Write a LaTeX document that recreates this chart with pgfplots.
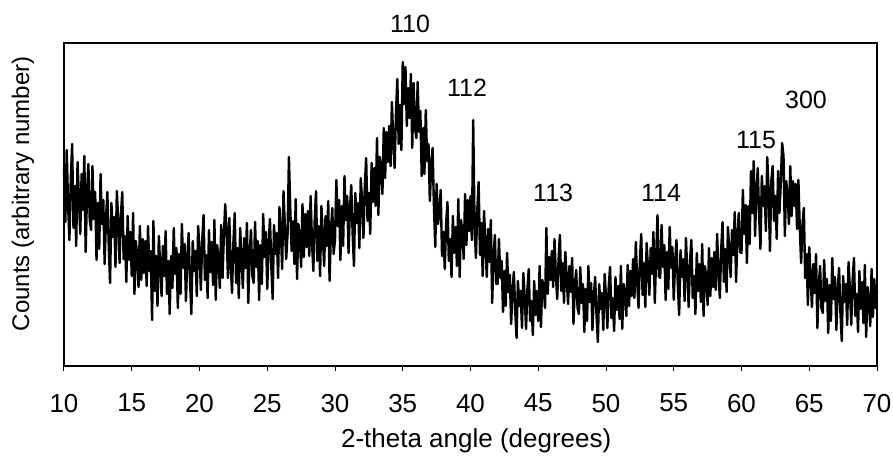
\documentclass[border=0pt]{standalone}
\usepackage{pgfplots}
\pgfplotsset{compat=1.18}
\usepackage{fontspec}
\setmainfont{Liberation Sans}
\begin{document}
\begin{tikzpicture}
\useasboundingbox (-32pt,-48.5pt) rectangle (414.5pt,183pt);
\begin{axis}[
  at={(0pt,0pt)}, anchor=south west,
  scale only axis, width=406.5pt, height=161.5pt,
  xmin=10, xmax=70, ymin=0, ymax=323,
  xtick={10,15,...,70}, ytick=\empty,
  xtick pos=bottom, tick align=outside, major tick length=2.5pt,
  axis line style={line width=0.9pt}, tick style={line width=0.5pt, black},
  xticklabel style={font=\fontsize{13}{15}\selectfont, yshift=-8pt},
  /pgf/number format/assume math mode=true,
  clip=false,
]
\addplot[black, line width=1.2pt, line join=round] coordinates {
(10.0,198) (10.1,144) (10.2,216) (10.3,162) (10.4,126) (10.5,186) (10.6,222) (10.7,138) (10.8,180) (10.9,120)
(11.0,204) (11.1,168) (11.2,132) (11.3,192) (11.4,156) (11.5,210) (11.6,114) (11.7,174) (11.8,202) (11.9,146)
(12.0,136) (12.1,200) (12.2,147) (12.3,174) (12.4,106) (12.5,163) (12.6,117) (12.7,192) (12.8,142) (12.9,166)
(13.0,102) (13.1,148) (13.2,174) (13.3,121) (13.4,83) (13.5,163) (13.6,129) (13.7,149) (13.8,99) (13.9,175)
(14.0,145) (14.1,103) (14.2,151) (14.3,174) (14.4,107) (14.5,130) (14.6,84) (14.7,150) (14.8,106) (14.9,134)
(15.0,90) (15.1,153) (15.2,72) (15.3,125) (15.4,110) (15.5,79) (15.6,140) (15.7,86) (15.8,127) (15.9,93)
(16.0,125) (16.1,80) (16.2,140) (16.3,95) (16.4,115) (16.5,46) (16.6,145) (16.7,75) (16.8,110) (16.9,60)
(17.0,130) (17.1,100) (17.2,70) (17.3,120) (17.4,90) (17.5,135) (17.6,72) (17.7,105) (17.8,52) (17.9,110)
(18.0,78) (18.1,138) (18.2,92) (18.3,118) (18.4,58) (18.5,112) (18.6,72) (18.7,142) (18.8,98) (18.9,122)
(19.0,65) (19.1,108) (19.2,133) (19.3,85) (19.4,52) (19.5,125) (19.6,95) (19.7,115) (19.8,70) (19.9,140)
(20.0,116) (20.1,76) (20.2,126) (20.3,151) (20.4,86) (20.5,111) (20.6,68) (20.7,136) (20.8,94) (20.9,124)
(21.0,81) (21.1,146) (21.2,66) (21.3,121) (21.4,108) (21.5,78) (21.6,141) (21.7,88) (21.8,131) (21.9,162)
(22.0,133) (22.1,88) (22.2,148) (22.3,103) (22.4,73) (22.5,123) (22.6,153) (22.7,83) (22.8,118) (22.9,68)
(23.0,138) (23.1,108) (23.2,78) (23.3,128) (23.4,98) (23.5,143) (23.6,63) (23.7,113) (23.8,136) (23.9,90)
(24.0,83) (24.1,144) (24.2,99) (24.3,125) (24.4,66) (24.5,121) (24.6,82) (24.7,152) (24.8,109) (24.9,134)
(25.0,77) (25.1,121) (25.2,147) (25.3,100) (25.4,67) (25.5,141) (25.6,112) (25.7,133) (25.8,88) (25.9,159)
(26.0,137) (26.1,97) (26.2,175) (26.3,140) (26.4,107) (26.5,132) (26.6,209) (26.7,157) (26.8,115) (26.9,145)
(27.0,102) (27.1,167) (27.2,87) (27.3,142) (27.4,129) (27.5,99) (27.6,162) (27.7,109) (27.8,152) (27.9,119)
(28.0,155) (28.1,110) (28.2,170) (28.3,125) (28.4,95) (28.5,145) (28.6,175) (28.7,105) (28.8,140) (28.9,90)
(29.0,160) (29.1,130) (29.2,100) (29.3,150) (29.4,120) (29.5,165) (29.6,85) (29.7,135) (29.8,158) (29.9,112)
(30.0,126) (30.1,186) (30.2,140) (30.3,166) (30.4,106) (30.5,160) (30.6,120) (30.7,190) (30.8,146) (30.9,170)
(31.0,113) (31.1,156) (31.2,181) (31.3,133) (31.4,100) (31.5,173) (31.6,143) (31.7,163) (31.8,118) (31.9,188)
(32.0,165) (32.1,128) (32.2,180) (32.3,208) (32.4,145) (32.5,173) (32.6,132) (32.7,203) (32.8,164) (32.9,198)
(33.0,160) (33.1,228) (33.2,151) (33.3,209) (33.4,199) (33.5,172) (33.6,238) (33.7,188) (33.8,234) (33.9,204)
(34.0,240) (34.1,200) (34.2,264) (34.3,224) (34.4,198) (34.5,253) (34.6,287) (34.7,222) (34.8,261) (34.9,216)
(35.0,304) (35.1,262) (35.2,299) (35.3,240) (35.4,278) (35.5,248) (35.6,292) (35.7,218) (35.8,283) (35.9,240)
(36.0,228) (36.1,284) (36.2,234) (36.3,255) (36.4,190) (36.5,238) (36.6,192) (36.7,256) (36.8,205) (36.9,222)
(37.0,165) (37.1,201) (37.2,218) (37.3,161) (37.4,119) (37.5,182) (37.6,142) (37.7,153) (37.8,176) (37.9,110)
(38.0,134) (38.1,97) (38.2,142) (38.3,164) (38.4,105) (38.5,127) (38.6,89) (38.7,150) (38.8,113) (38.9,139)
(39.0,100) (39.1,167) (39.2,89) (39.3,146) (39.4,135) (39.5,107) (39.6,172) (39.7,121) (39.8,166) (39.9,135)
(40.0,170) (40.1,126) (40.2,246) (40.3,140) (40.4,108) (40.5,156) (40.6,184) (40.7,111) (40.8,143) (40.9,90)
(41.0,155) (41.1,122) (41.2,89) (41.3,137) (41.4,104) (41.5,146) (41.6,63) (41.7,111) (41.8,131) (41.9,82)
(42.0,82) (42.1,127) (42.2,88) (42.3,105) (42.4,54) (42.5,95) (42.6,60) (42.7,113) (42.8,74) (42.9,91)
(43.0,42) (43.1,75) (43.2,94) (43.3,55) (43.4,28) (43.5,85) (43.6,60) (43.7,75) (43.8,38) (43.9,93)
(44.0,69) (44.1,37) (44.2,77) (44.3,97) (44.4,45) (44.5,65) (44.6,31) (44.7,85) (44.8,51) (44.9,75)
(45.0,45) (45.1,100) (45.2,39) (45.3,86) (45.4,79) (45.5,58) (45.6,138) (45.7,72) (45.8,109) (45.9,86)
(46.0,115) (46.1,79) (46.2,127) (46.3,91) (46.4,67) (46.5,107) (46.6,131) (46.7,75) (46.8,103) (46.9,63)
(47.0,114) (47.1,88) (47.2,62) (47.3,100) (47.4,74) (47.5,108) (47.6,42) (47.7,80) (47.8,96) (47.9,58)
(48.0,52) (48.1,99) (48.2,63) (48.3,82) (48.4,34) (48.5,77) (48.6,45) (48.7,100) (48.8,64) (48.9,83)
(49.0,36) (49.1,70) (49.2,89) (49.3,51) (49.4,24) (49.5,82) (49.6,57) (49.7,73) (49.8,36) (49.9,92)
(50.0,70) (50.1,38) (50.2,79) (50.3,99) (50.4,48) (50.5,68) (50.6,35) (50.7,89) (50.8,56) (50.9,80)
(51.0,47) (51.1,100) (51.2,37) (51.3,82) (51.4,73) (51.5,50) (51.6,101) (51.7,60) (51.8,95) (51.9,70)
(52.0,107) (52.1,68) (52.2,124) (52.3,85) (52.4,58) (52.5,105) (52.6,132) (52.7,71) (52.8,103) (52.9,59)
(53.0,123) (53.1,97) (53.2,71) (53.3,118) (53.4,92) (53.5,134) (53.6,63) (53.7,108) (53.8,151) (53.9,90)
(54.0,88) (54.1,141) (54.2,99) (54.3,121) (54.4,66) (54.5,114) (54.6,77) (54.7,139) (54.8,98) (54.9,119)
(55.0,66) (55.1,104) (55.2,126) (55.3,81) (55.4,51) (55.5,116) (55.6,89) (55.7,107) (55.8,65) (55.9,128)
(56.0,95) (56.1,59) (56.2,104) (56.3,126) (56.4,68) (56.5,90) (56.6,52) (56.7,113) (56.8,75) (56.9,102)
(57.0,64) (57.1,122) (57.2,50) (57.3,100) (57.4,88) (57.5,61) (57.6,118) (57.7,70) (57.8,108) (57.9,79)
(58.0,114) (58.1,76) (58.2,132) (58.3,94) (58.4,68) (58.5,116) (58.6,144) (58.7,84) (58.8,117) (58.9,74)
(59.0,139) (59.1,114) (59.2,89) (59.3,136) (59.4,111) (59.5,154) (59.6,84) (59.7,130) (59.8,153) (59.9,114)
(60.0,113) (60.1,176) (60.2,132) (60.3,161) (60.4,103) (60.5,160) (60.6,122) (60.7,195) (60.8,153) (60.9,205)
(61.0,130) (61.1,173) (61.2,198) (61.3,150) (61.4,117) (61.5,190) (61.6,160) (61.7,180) (61.8,135) (61.9,209)
(62.0,175) (62.1,115) (62.2,185) (62.3,200) (62.4,145) (62.5,170) (62.6,127) (62.7,195) (62.8,153) (62.9,183)
(63.0,223) (63.1,210) (63.2,130) (63.3,185) (63.4,172) (63.5,142) (63.6,200) (63.7,150) (63.8,185) (63.9,160)
(64.0,182) (64.1,137) (64.2,186) (64.3,139) (64.4,103) (64.5,141) (64.6,158) (64.7,88) (64.8,112) (64.9,61)
(65.0,119) (65.1,89) (65.2,59) (65.3,102) (65.4,73) (65.5,112) (65.6,38) (65.7,80) (65.8,100) (65.9,58)
(66.0,53) (66.1,106) (66.2,65) (66.3,87) (66.4,33) (66.5,81) (66.6,45) (66.7,108) (66.8,67) (66.9,89)
(67.0,36) (67.1,75) (67.2,98) (67.3,54) (67.4,25) (67.5,90) (67.6,64) (67.7,82) (67.8,41) (67.9,104)
(68.0,77) (68.1,41) (68.2,86) (68.3,108) (68.4,50) (68.5,72) (68.6,34) (68.7,95) (68.8,57) (68.9,84)
(69.0,43) (69.1,101) (69.2,29) (69.3,79) (69.4,67) (69.5,40) (69.6,97) (69.7,49) (69.8,87) (69.9,58)
(70.0,75)
};
\node[font=\fontsize{12.5}{14}\selectfont] at (axis cs:35.54,342) {110};
\node[font=\fontsize{12.5}{14}\selectfont] at (axis cs:39.74,278) {112};
\node[font=\fontsize{12.5}{14}\selectfont] at (axis cs:46.1,173) {113};
\node[font=\fontsize{12.5}{14}\selectfont] at (axis cs:54.06,173) {114};
\node[font=\fontsize{12.5}{14}\selectfont] at (axis cs:61.07,226) {115};
\node[font=\fontsize{12.5}{14}\selectfont] at (axis cs:64.76,266) {300};
\node[font=\fontsize{13}{15}\selectfont, yshift=-37.5pt] at (axis description cs:0.507,0) {2-theta angle (degrees)};
\node[font=\fontsize{12}{14}\selectfont, xshift=-20.5pt, rotate=90] at (axis description cs:0,0.533) {Counts (arbitrary number)};
\end{axis}
\end{tikzpicture}
\end{document}
